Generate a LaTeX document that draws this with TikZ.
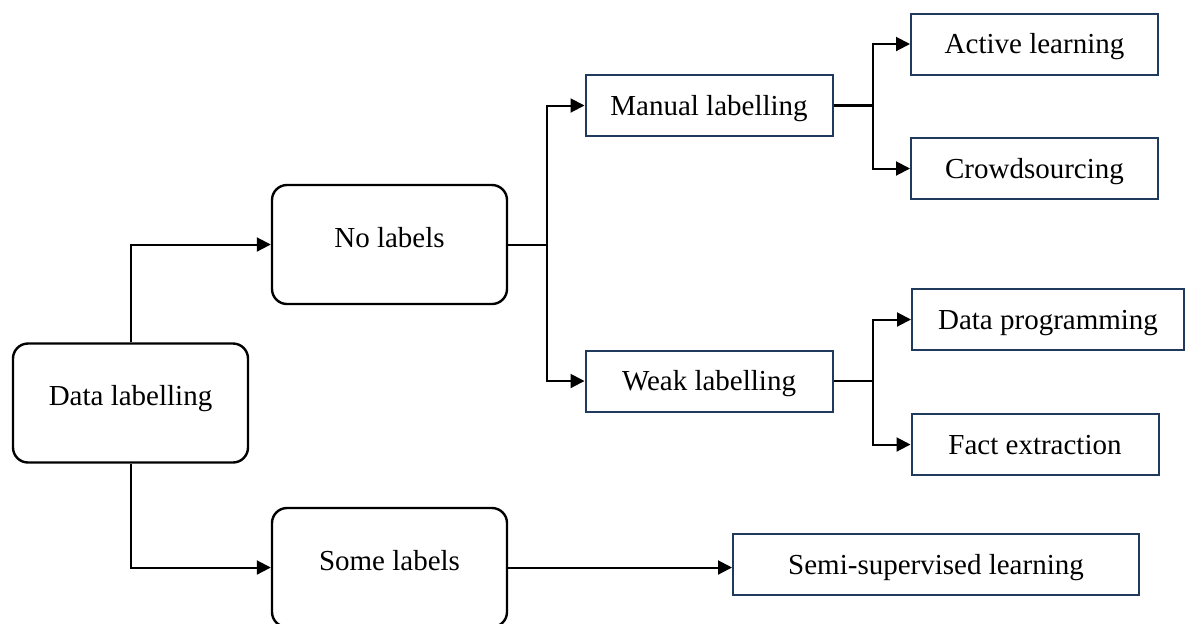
\documentclass[tikz,border=0pt]{standalone}
\usepackage{fontspec}
\setmainfont{Liberation Serif}
\usetikzlibrary{arrows.meta}
\definecolor{boxnavy}{HTML}{203A5E}
\begin{document}
\begin{tikzpicture}[x=0.5pt,y=-0.5pt,
    txt/.style={font=\fontsize{14.5pt}{17pt}\selectfont},
    rbox/.style={txt,draw,line width=1.2pt,rounded corners=7.5pt,minimum width=117.5pt,minimum height=59.5pt,text height=10pt,text depth=7.4pt},
    sbox/.style={txt,draw=boxnavy,line width=1pt,minimum width=123.5pt,minimum height=30.5pt,text height=10pt,text depth=0.5pt},
    conn/.style={line width=1pt,-{Triangle[length=7pt,width=7pt]}}]
  \useasboundingbox (0,0) rectangle (1192,623);
  \node[rbox] (dl) at (130.5,403) {Data labelling};
  \node[rbox] (nl) at (389.5,244.5) {No labels};
  \node[rbox] (sl) at (389.5,567.5) {Some labels};
  \node[sbox] (ml) at (709,105.5) {Manual labelling};
  \node[sbox] (wl) at (709,381) {Weak labelling};
  \node[sbox] (al) at (1034.5,44) {Active learning};
  \node[sbox] (cs) at (1034.5,168.5) {Crowdsourcing};
  \node[sbox,minimum width=136pt] (dp) at (1048,319.5) {Data programming};
  \node[sbox] (fe) at (1035,444.5) {Fact extraction};
  \node[sbox,minimum width=203pt] (ss) at (936,564.5) {Semi-supervised learning};
  \coordinate (nlj) at (547,244.5);
  \coordinate (mlj) at (873,105.5);
  \coordinate (wlj) at (873,381);
  \draw[conn] (dl.north) |- (nl.west);
  \draw[conn] (dl.south) |- (sl.west);
  \draw[line width=1pt] (nl.east) -- (nlj);
  \draw[conn] (nlj) |- (ml.west);
  \draw[conn] (nlj) |- (wl.west);
  \draw[line width=1.4pt] (ml.east) -- (mlj);
  \draw[conn] (mlj) |- (al.west);
  \draw[conn] (mlj) |- (cs.west);
  \draw[line width=1pt] (wl.east) -- (wlj);
  \draw[conn] (wlj) |- (dp.west);
  \draw[conn] (wlj) |- (fe.west);
  \draw[conn] (sl.east) -- (sl.east -| ss.west);
\end{tikzpicture}
\end{document}
